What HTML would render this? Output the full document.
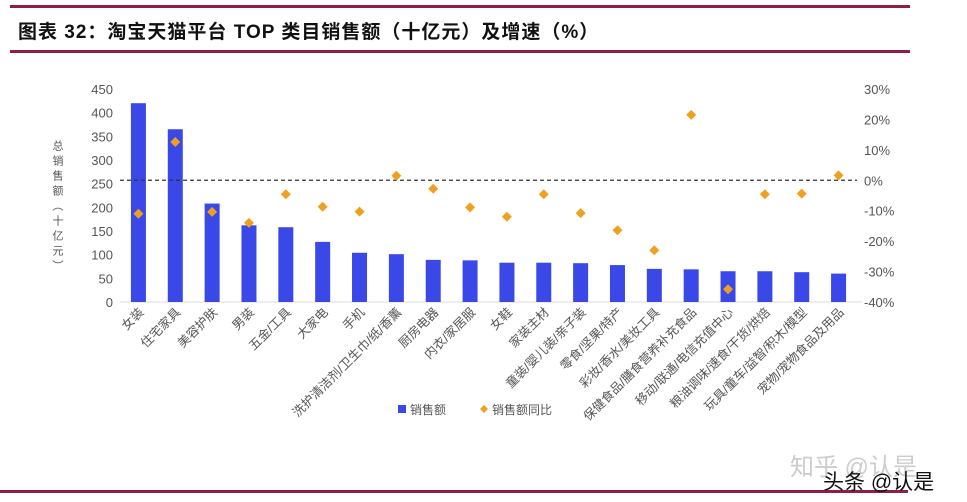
<!DOCTYPE html>
<html><head><meta charset="utf-8">
<style>
html,body{margin:0;padding:0;background:#fff;}
body{width:967px;height:502px;overflow:hidden;position:relative;font-family:"Liberation Sans","Noto Sans CJK SC",sans-serif;}
.rule{position:absolute;left:10px;width:900px;height:3px;background:#8e1f43;}
#title{position:absolute;left:18px;top:17px;font-size:19px;font-weight:bold;color:#111;font-family:"Liberation Sans","WenQuanYi Zen Hei","Noto Sans CJK SC",sans-serif;letter-spacing:1px;}
.wm{position:absolute;font-family:"Liberation Sans","Noto Sans CJK SC",sans-serif;}
</style></head><body>
<div class="rule" style="top:5px"></div>
<div id="title">图表 32：淘宝天猫平台 TOP 类目销售额（十亿元）及增速（%）</div>
<div class="rule" style="top:50px"></div>
<div class="rule" style="top:490px;left:0;width:908px"></div>
<svg id="chart" width="967" height="502" style="position:absolute;left:0;top:0"></svg>
<div class="wm" style="left:790px;top:447px;font-size:24px;color:#ccc;">知乎 @认是</div>
<div class="wm" style="left:823px;top:466px;font-size:21px;color:#111;">头条 @认是</div>
<script>
const categories=["女装","住宅家具","美容护肤","男装","五金/工具","大家电","手机","洗护清洁剂/卫生巾/纸/香薰","厨房电器","内衣/家居服","女鞋","家装主材","童装/婴儿装/亲子装","零食/坚果/特产","彩妆/香水/美妆工具","保健食品/膳食营养补充食品","移动/联通/电信充值中心","粮油调味/速食/干货/烘焙","玩具/童车/益智/积木/模型","宠物/宠物食品及用品"];
const sales=[420,365,208,162,158,127,104,101,89,88,83,83,82,78,70,69,65,65,63,60];
const growth=[-11,12.6,-10.4,-14,-4.6,-8.7,-10.3,1.5,-2.8,-8.9,-12,-4.6,-10.8,-16.4,-23,21.5,-35.8,-4.6,-4.4,1.6];
const leftTicks=[0,50,100,150,200,250,300,350,400,450];
const rightTicks=[-40,-30,-20,-10,0,10,20,30];

const svg=document.getElementById('chart');
const NS='http://www.w3.org/2000/svg';
const X0=120,X1=857,YB=302,YT=89;
const yL=v=>YB-(v-0)/(450-0)*(YB-YT);
const yR=v=>YB-(v+40)/70*(YB-YT);
const step=(X1-X0)/categories.length;
const xC=i=>X0+step*(i+0.5);
function mk(tag,attrs){const e=document.createElementNS(NS,tag);for(const k in attrs)e.setAttribute(k,attrs[k]);svg.appendChild(e);return e;}
const tc='#555',fs=12.5,ff='"Liberation Sans","Noto Sans CJK SC",sans-serif';

leftTicks.forEach(v=>{const t=mk('text',{x:113,y:yL(v)+5,'text-anchor':'end','font-size':13,fill:tc,'font-family':ff});t.textContent=v;

});
rightTicks.forEach(v=>{const t=mk('text',{x:864,y:yR(v)+5,'text-anchor':'start','font-size':13,fill:tc,'font-family':ff});t.textContent=v+'%';

});

const axis=mk('line',{x1:X0,y1:YB,x2:X1+5,y2:YB,stroke:'#ddd','stroke-width':1});



const yt=mk('text',{x:57,y:140,'font-size':11,fill:tc,'font-family':ff});
yt.textContent='总销售额（十亿元）';


yt.setAttribute('style','writing-mode:vertical-rl;letter-spacing:4px');

sales.forEach((v,i)=>{const r=mk('rect',{x:xC(i)-7.5,y:yL(v),width:15,height:YB-yL(v),fill:'#3a48e8'});

});

const zl=mk('line',{x1:X0,y1:yR(0),x2:X1,y2:yR(0),stroke:'#333','stroke-width':1.2,'stroke-dasharray':'4,3'});



growth.forEach((v,i)=>{const cx=xC(i),cy=yR(v);const p=mk('polygon',{points:`${cx},${cy-5} ${cx+5},${cy} ${cx},${cy+5} ${cx-5},${cy}`,fill:'#f0a020'});

});

categories.forEach((c,i)=>{const x=xC(i)+6,y=313;const t=mk('text',{x:x,y:y,'text-anchor':'end','font-size':fs,fill:tc,'font-family':ff,transform:`rotate(-45 ${x} ${y})`});t.textContent=c;

});

const l1=mk('rect',{x:398,y:405,width:8,height:8,fill:'#3a48e8'});


const lt1=mk('text',{x:410,y:414,'font-size':12,fill:tc,'font-family':ff});lt1.textContent='销售额';


const l2=mk('polygon',{points:'484,405 488,409 484,413 480,409',fill:'#f0a020'});


const lt2=mk('text',{x:492,y:414,'font-size':12,fill:tc,'font-family':ff});lt2.textContent='销售额同比';


</script>
</body></html>
